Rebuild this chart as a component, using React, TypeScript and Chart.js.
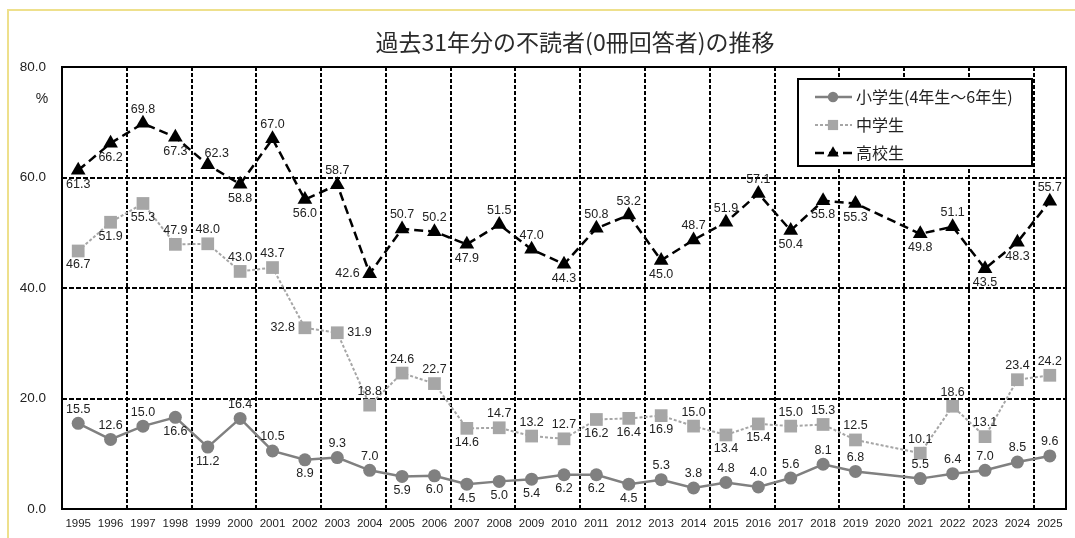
import React, { useEffect, useRef } from 'react';
import { Chart, registerables } from 'chart.js';
Chart.register(...registerables);

const chartTitle = '過去31年分の不読者(0冊回答者)の推移';
const unitLabel = '%';
const years = [
  '1995', '1996', '1997', '1998', '1999', '2000', '2001', '2002', '2003', '2004',
  '2005', '2006', '2007', '2008', '2009', '2010', '2011', '2012', '2013', '2014',
  '2015', '2016', '2017', '2018', '2019', '2020', '2021', '2022', '2023', '2024', '2025',
];
const seriesNames = ['小学生(4年生～6年生)', '中学生', '高校生'];
const elementary = [
  15.5, 12.6, 15.0, 16.6, 11.2, 16.4, 10.5, 8.9, 9.3, 7.0,
  5.9, 6.0, 4.5, 5.0, 5.4, 6.2, 6.2, 4.5, 5.3, 3.8,
  4.8, 4.0, 5.6, 8.1, 6.8, null, 5.5, 6.4, 7.0, 8.5, 9.6,
];
const junior = [
  46.7, 51.9, 55.3, 47.9, 48.0, 43.0, 43.7, 32.8, 31.9, 18.8,
  24.6, 22.7, 14.6, 14.7, 13.2, 12.7, 16.2, 16.4, 16.9, 15.0,
  13.4, 15.4, 15.0, 15.3, 12.5, null, 10.1, 18.6, 13.1, 23.4, 24.2,
];
const high = [
  61.3, 66.2, 69.8, 67.3, 62.3, 58.8, 67.0, 56.0, 58.7, 42.6,
  50.7, 50.2, 47.9, 51.5, 47.0, 44.3, 50.8, 53.2, 45.0, 48.7,
  51.9, 57.1, 50.4, 55.8, 55.3, null, 49.8, 51.1, 43.5, 48.3, 55.7,
];
const yMin = 0;
const yMax = 80;
const yStep = 20;

// label placement per point: a=above, b=below, l=left, r=right, ar=above-right
const elementaryLabelPos = [
  'a', 'a', 'a', 'b', 'b', 'a', 'a', 'b', 'a', 'a',
  'b', 'b', 'b', 'b', 'b', 'b', 'b', 'b', 'a', 'a',
  'a', 'a', 'a', 'a', 'a', '', 'a', 'a', 'a', 'a', 'a',
];
const juniorLabelPos = [
  'b', 'b', 'b', 'a', 'a', 'a', 'a', 'l', 'r', 'a',
  'a', 'a', 'b', 'a', 'a', 'a', 'b', 'b', 'b', 'a',
  'b', 'b', 'a', 'a', 'a', '', 'a', 'a', 'a', 'a', 'a',
];
const highLabelPos = [
  'b', 'b', 'a', 'b', 'ar', 'b', 'a', 'b', 'a', 'l',
  'a', 'a', 'b', 'a', 'a', 'b', 'a', 'a', 'b', 'a',
  'a', 'a', 'b', 'b', 'b', '', 'b', 'a', 'b', 'b', 'a',
];

const NUM_FONT = '"Liberation Sans", Arial, sans-serif';
const JP_FONT = '"Noto Sans CJK JP", "Noto Sans", sans-serif';

const decorPlugin = {
  id: 'decor',
  beforeDraw(chart: any) {
    const { ctx } = chart;
    ctx.save();
    ctx.fillStyle = '#ffffff';
    ctx.fillRect(0, 0, chart.width, chart.height);
    ctx.strokeStyle = '#eee08c';
    ctx.lineWidth = 2;
    ctx.beginPath();
    ctx.moveTo(8, chart.height);
    ctx.lineTo(8, 10);
    ctx.lineTo(chart.width, 10);
    ctx.stroke();
    ctx.fillStyle = '#2a2a2a';
    ctx.font = `23px ${JP_FONT}`;
    ctx.textAlign = 'center';
    ctx.textBaseline = 'middle';
    ctx.fillText(chartTitle, 575, 42);
    ctx.font = `14px ${NUM_FONT}`;
    ctx.fillStyle = '#222';
    ctx.fillText(unitLabel, 42, 99);
    ctx.restore();
  },
  beforeDatasetsDraw(chart: any) {
    const { ctx, chartArea: a } = chart;
    ctx.save();
    ctx.strokeStyle = '#000';
    ctx.lineWidth = 2;
    ctx.setLineDash([]);
    ctx.strokeRect(a.left, a.top, a.right - a.left, a.bottom - a.top);
    ctx.restore();
  },
  afterDatasetsDraw(chart: any) {
    const { ctx } = chart;
    const posSets = [elementaryLabelPos, juniorLabelPos, highLabelPos];
    ctx.save();
    ctx.font = `12.5px ${NUM_FONT}`;
    ctx.fillStyle = '#222';
    ctx.textBaseline = 'middle';
    chart.data.datasets.forEach((ds: any, di: number) => {
      const meta = chart.getDatasetMeta(di);
      meta.data.forEach((pt: any, i: number) => {
        const v = ds.data[i];
        if (v === null || v === undefined) return;
        const txt = Number(v).toFixed(1);
        const w = ctx.measureText(txt).width;
        const p = posSets[di][i];
        let x = pt.x;
        let y = pt.y;
        if (p === 'a') y -= 14;
        else if (p === 'b') y += 14;
        else if (p === 'l') x -= w / 2 + 10;
        else if (p === 'r') x += w / 2 + 10;
        else if (p === 'ar') { x += 9; y -= 11; }
        ctx.textAlign = 'center';
        ctx.fillText(txt, x, y);
      });
    });
    ctx.restore();
  },
  afterDraw(chart: any) {
    const { ctx } = chart;
    const bx = 798, by = 79, bw = 234, bh = 87;
    ctx.save();
    ctx.fillStyle = '#fff';
    ctx.fillRect(bx, by, bw, bh);
    ctx.strokeStyle = '#000';
    ctx.lineWidth = 2;
    ctx.strokeRect(bx, by, bw, bh);
    chart.data.datasets.forEach((ds: any, di: number) => {
      const y = 97 + di * 28;
      ctx.save();
      ctx.strokeStyle = ds.borderColor;
      ctx.lineWidth = ds.borderWidth;
      ctx.setLineDash(ds.borderDash || []);
      ctx.beginPath();
      ctx.moveTo(815, y);
      ctx.lineTo(852, y);
      ctx.stroke();
      ctx.setLineDash([]);
      ctx.fillStyle = ds.pointBackgroundColor;
      const r = ds.pointRadius * 0.8;
      ctx.beginPath();
      if (ds.pointStyle === 'circle') {
        ctx.arc(833, y, r, 0, Math.PI * 2);
      } else if (ds.pointStyle === 'rect') {
        const s = r * Math.SQRT1_2;
        ctx.rect(833 - s, y - s, 2 * s, 2 * s);
      } else {
        ctx.moveTo(833, y - r);
        ctx.lineTo(833 + r * 0.866, y + r * 0.5);
        ctx.lineTo(833 - r * 0.866, y + r * 0.5);
        ctx.closePath();
      }
      ctx.fill();
      ctx.restore();
      ctx.fillStyle = '#222';
      ctx.font = `16px ${JP_FONT}`;
      ctx.textAlign = 'left';
      ctx.textBaseline = 'middle';
      ctx.fillText(seriesNames[di], 856, y);
    });
    ctx.restore();
  },
};

export default function App() {
  const ref = useRef<HTMLCanvasElement | null>(null);
  useEffect(() => {
    if (!ref.current) return;
    const chart = new Chart(ref.current, {
      type: 'line',
      data: {
        labels: years,
        datasets: [
          {
            label: seriesNames[0],
            data: elementary,
            borderColor: '#808080',
            backgroundColor: '#808080',
            borderWidth: 2.5,
            borderDash: [],
            pointStyle: 'circle',
            pointRadius: 6.5,
            pointBackgroundColor: '#808080',
            pointBorderColor: '#808080',
            pointBorderWidth: 0,
            spanGaps: true,
            tension: 0,
          },
          {
            label: seriesNames[1],
            data: junior,
            borderColor: '#a6a6a6',
            backgroundColor: '#a6a6a6',
            borderWidth: 2,
            borderDash: [3, 2],
            pointStyle: 'rect',
            pointRadius: 9,
            pointBackgroundColor: '#a6a6a6',
            pointBorderColor: '#a6a6a6',
            pointBorderWidth: 0,
            spanGaps: true,
            tension: 0,
          },
          {
            label: seriesNames[2],
            data: high,
            borderColor: '#000000',
            backgroundColor: '#000000',
            borderWidth: 2.5,
            borderDash: [9, 5],
            pointStyle: 'triangle',
            pointRadius: 8.5,
            pointBackgroundColor: '#000000',
            pointBorderColor: '#000000',
            pointBorderWidth: 0,
            spanGaps: true,
            tension: 0,
          },
        ] as any,
      },
      options: {
        responsive: false,
        animation: false,
        devicePixelRatio: 1,
        layout: { padding: { left: 0, top: 67, right: 4, bottom: 0 } },
        plugins: {
          legend: { display: false },
          title: { display: false },
          tooltip: { enabled: false },
        },
        scales: {
          x: {
            type: 'category',
            offset: true,
            grid: {
              offset: true,
              drawTicks: false,
              lineWidth: 2,
              color: (c: any) =>
                c.index !== undefined && c.index > 0 && c.index % 2 === 0 ? '#000' : 'rgba(0,0,0,0)',
            },
            border: { display: false, dash: [4, 2] },
            ticks: {
              autoSkip: false,
              maxRotation: 0,
              padding: 8,
              color: '#222',
              font: { family: NUM_FONT, size: 11.5 },
            },
            afterFit: (s: any) => {
              s.height = 29;
            },
          },
          y: {
            min: yMin,
            max: yMax,
            grid: {
              drawTicks: false,
              lineWidth: 2,
              color: (c: any) =>
                c.tick && c.tick.value > yMin && c.tick.value < yMax ? '#000' : 'rgba(0,0,0,0)',
            },
            border: { display: false, dash: [5, 2] },
            ticks: {
              stepSize: yStep,
              padding: 16,
              color: '#222',
              font: { family: NUM_FONT, size: 13.5 },
              callback: (v: any) => Number(v).toFixed(1),
            },
            afterFit: (s: any) => {
              s.width = 62;
            },
          },
        },
      } as any,
      plugins: [decorPlugin],
    });
    return () => chart.destroy();
  }, []);
  return (
    <div style={{ position: 'fixed', left: 0, top: 0, width: 1075, height: 538, background: '#fff' }}>
      <canvas ref={ref} width={1075} height={538} style={{ display: 'block' }} />
    </div>
  );
}
